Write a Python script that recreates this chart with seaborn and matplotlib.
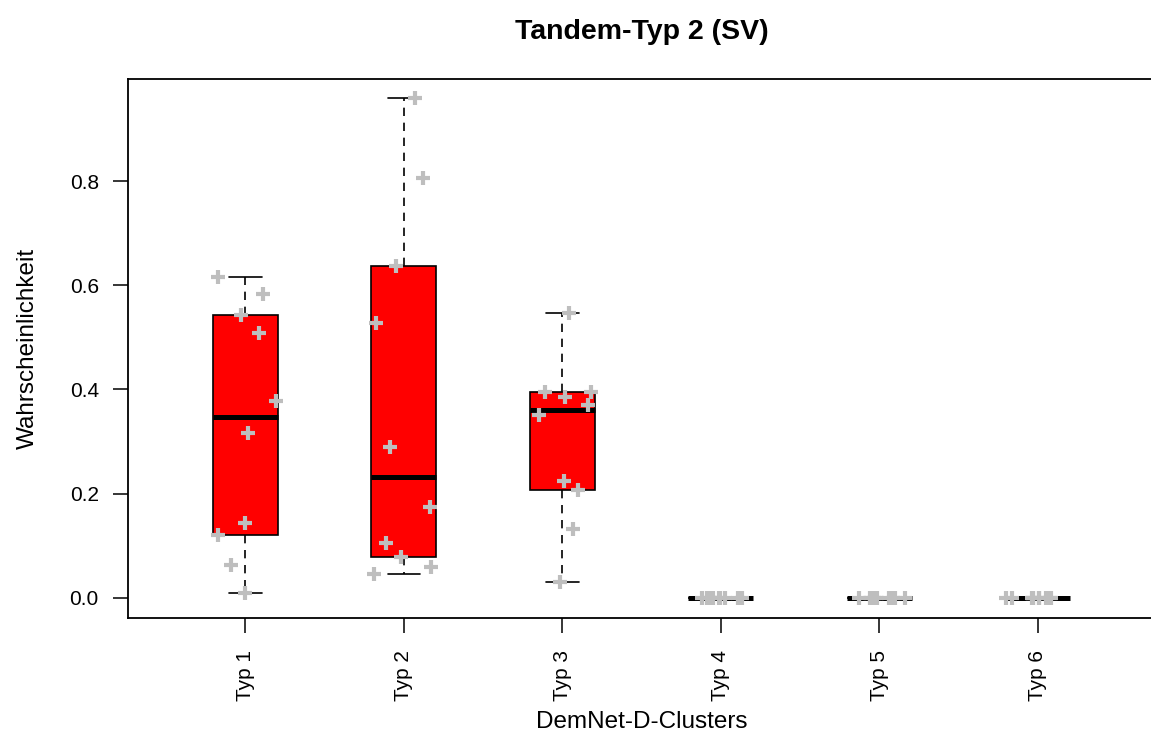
import numpy as np
import pandas as pd
import seaborn as sns
import matplotlib
matplotlib.use("Agg")
import matplotlib.pyplot as plt

# Werte pro Cluster
categories = ["Typ 1", "Typ 2", "Typ 3", "Typ 4", "Typ 5", "Typ 6"]
typ1 = [0.616, 0.583, 0.543, 0.508, 0.377, 0.317, 0.144, 0.120, 0.063, 0.009]
typ2 = [0.959, 0.806, 0.636, 0.527, 0.290, 0.175, 0.106, 0.079, 0.060, 0.046]
typ3 = [0.546, 0.396, 0.396, 0.386, 0.370, 0.351, 0.225, 0.208, 0.132, 0.031]
typ4 = [0.0] * 10
typ5 = [0.0] * 10
typ6 = [0.0] * 10
y_ticks = [0.0, 0.2, 0.4, 0.6, 0.8]
y_tick_labels = ["0.0", "0.2", "0.4", "0.6", "0.8"]

series = [typ1, typ2, typ3, typ4, typ5, typ6]
df = pd.DataFrame({
    "cluster": np.repeat(categories, [len(s) for s in series]),
    "p": sum(series, []),
})


def fivenum_stats(vals, label):
    # Tukey-Hinges wie in R boxplot()
    x = np.sort(np.asarray(vals, dtype=float))
    n = len(x)
    n4 = np.floor((n + 3) / 2) / 2
    d = np.array([1, n4, (n + 1) / 2, n + 1 - n4, n]) - 1
    f = 0.5 * (x[np.floor(d).astype(int)] + x[np.ceil(d).astype(int)])
    iqr = f[3] - f[1]
    lo = x[x >= f[1] - 1.5 * iqr].min()
    hi = x[x <= f[3] + 1.5 * iqr].max()
    return dict(label=label, med=f[2], q1=f[1], q3=f[3],
                whislo=lo, whishi=hi, fliers=[])


sns.set_style("white")
plt.rcParams["font.family"] = ["Liberation Sans", "DejaVu Sans"]
plt.rcParams["text.color"] = "black"
plt.rcParams["axes.labelcolor"] = "black"
plt.rcParams["xtick.color"] = "black"
plt.rcParams["ytick.color"] = "black"

fig = plt.figure(figsize=(11.51, 7.35), dpi=100)
ax = fig.add_axes([128 / 1151, 1 - 618 / 735, 1027 / 1151, 539 / 735])

stats = [fivenum_stats(v, c) for v, c in zip(series, categories)]
ax.bxp(stats, positions=range(len(categories)), widths=0.41,
       patch_artist=True, showfliers=False, manage_ticks=False,
       boxprops=dict(facecolor="red", edgecolor="black", linewidth=1.2),
       medianprops=dict(linewidth=3.6, color="black", solid_capstyle="butt"),
       whiskerprops=dict(color="black", linestyle=(0, (5, 4)), linewidth=1.2),
       capprops=dict(color="black", linewidth=1.2))

np.random.seed(7)
sns.stripplot(data=df, x="cluster", y="p", order=categories, ax=ax,
              jitter=0.2, marker="+", color="#BEBEBE", size=10,
              linewidth=3, zorder=5)

ax.set_xlim(-0.74, 5.74)
ax.set_ylim(-0.0384, 0.9957)
ax.set_yticks(y_ticks)
ax.set_yticklabels(y_tick_labels)

for s in ["left", "bottom", "top"]:
    ax.spines[s].set_color("black")
    ax.spines[s].set_linewidth(1.3)
ax.spines["right"].set_visible(False)

ax.tick_params(axis="both", direction="out", length=11, width=1.1,
               color="black", labelsize=15, labelcolor="black",
               left=True, bottom=True)
ax.tick_params(axis="y", pad=10)
ax.tick_params(axis="x", pad=12, labelrotation=90)

ax.set_xlabel("DemNet-D-Clusters", fontsize=17.5, labelpad=7, color="black")
ax.set_ylabel("Wahrscheinlichkeit", fontsize=17.5, labelpad=22, color="black")
ax.set_title("Tandem-Typ 2 (SV)", fontsize=20.5, fontweight="bold", pad=29,
             color="black")

fig.savefig("out.png", dpi=100)
